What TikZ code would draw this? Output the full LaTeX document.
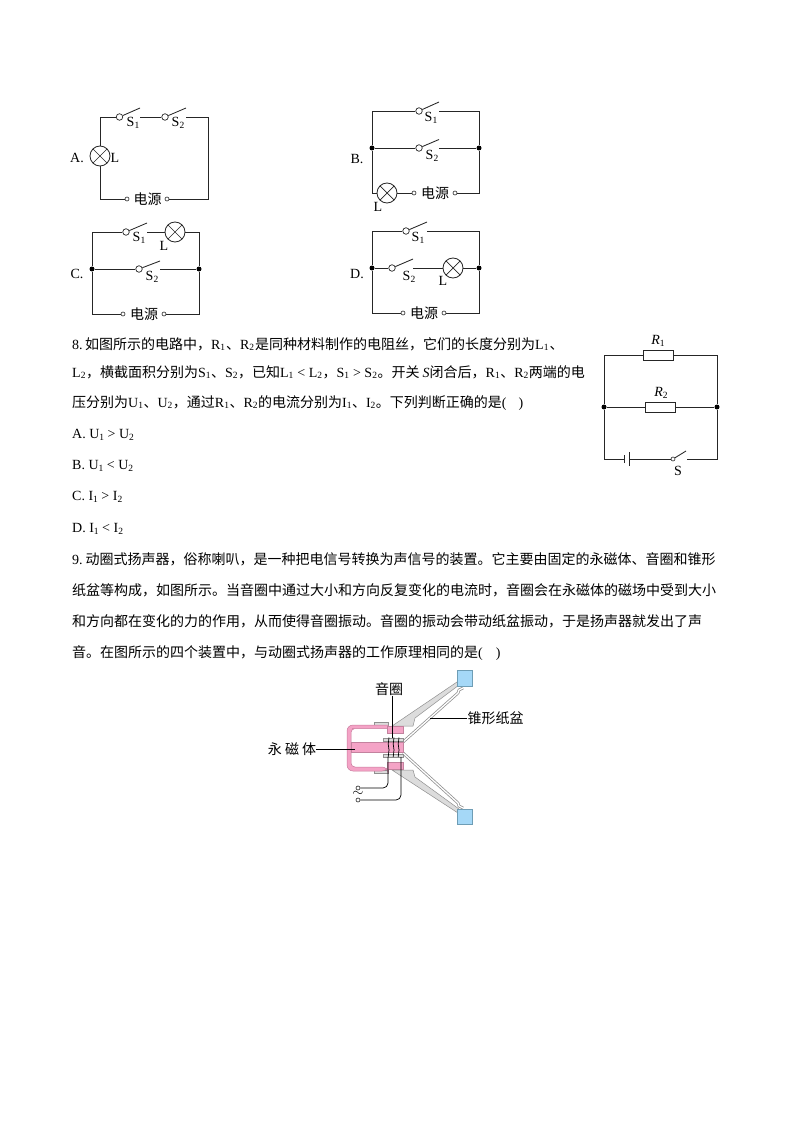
\documentclass[tikz,border=0pt]{standalone}
\usepackage{fontspec}
\setmainfont{Liberation Serif}
\newfontfamily\cjk{Noto Sans CJK SC}
\newcommand\zh[1]{{\cjk #1}}
\newcommand\sbn[1]{\raisebox{-1.5pt}{\fontsize{9.5}{9.5}\selectfont #1}}
\newcommand\sbb[1]{\sbn{#1}\hspace{1pt}}
\newcommand\sbc[1]{\sbn{#1}\hspace{0.5pt}}
\newcommand\swch[5]{% name, x, y, tipx, tipy
  \node[swc] (#1) at (#2,#3) {};
  \coordinate (#1t) at (#4,#5);
  \coordinate (#1e) at (#4,#3);
  \draw[wire] (#1) -- (#1t);}
\definecolor{magpink}{HTML}{F4A3C6}
\definecolor{magedge}{HTML}{C87A9C}
\definecolor{conegrey}{HTML}{DCDCDC}
\definecolor{coneedge}{HTML}{909090}
\definecolor{rimblue}{HTML}{A5D8F7}
\definecolor{rimedge}{HTML}{6E9DB5}
\tikzset{
  wire/.style={line width=0.85pt,draw=black!85},
  swc/.style={circle,draw=black!85,line width=0.7pt,minimum size=6.5pt,inner sep=0pt,fill=white},
  term/.style={circle,draw=black!85,line width=0.6pt,minimum size=4pt,inner sep=0pt,fill=white},
  jn/.style={circle,fill=black,minimum size=5pt,inner sep=0pt},
  lamp/.style={circle,draw=black!85,line width=0.85pt,minimum size=20pt,inner sep=0pt,
    path picture={\draw[line width=0.7pt,black!85] (path picture bounding box.south west)--(path picture bounding box.north east)
      (path picture bounding box.north west)--(path picture bounding box.south east);}},
  res/.style={rectangle,draw=black!85,line width=0.85pt,minimum width=30pt,minimum height=10pt,inner sep=0pt,fill=white},
  lbl/.style={inner sep=0pt,font=\fontsize{14}{14}\selectfont},
  body/.style={inner sep=0pt,anchor=west,font=\fontsize{14}{14}\selectfont},
  captxt/.style={inner sep=0pt,font=\fontsize{14}{14}\selectfont\cjk},
  lead/.style={line width=0.7pt,draw=black},
  cone/.style={draw=coneedge,line width=0.5pt,fill=conegrey},
  grayplate/.style={fill=conegrey,draw=coneedge,line width=0.4pt},
  pinkbar/.style={fill=magpink,draw=magpink!80!black,line width=0.3pt},
  bluebox/.style={fill=rimblue,draw=rimedge,line width=0.7pt},
  surr/.style={draw=coneedge,line width=2.8pt},
  surrin/.style={draw=white,line width=1.3pt}
}
\begin{document}
\begin{tikzpicture}[x=1pt,y=-1pt]
\useasboundingbox[fill=white] (0,0) rectangle (794,1123);
% ---- A
\node[lamp] (aL) at (100,156) {};
\swch{aS1}{119.5}{117}{140}{108}
\swch{aS2}{165}{117}{186}{108}
\node[term] (aP) at (127,199) {};
\node[term] (aQ) at (167,199) {};
\coordinate (aR) at (208,117);
\draw[wire] (aL) |- (aS1);
\draw[wire] (aS1e) -- (aS2);
\draw[wire] (aS2e) -- (aR) |- (aQ);
\draw[wire] (aL) |- (aP);
\node[lbl] (aTA) at (77,158) {A.};
\node[lbl] (aTL) at (115,158) {L};
\node[lbl] (aT1) at (133,123) {S\sbn{1}};
\node[lbl] (aT2) at (178,123) {S\sbn{2}};
\node[captxt] (aTP) at (147.5,199) {电源};
% ---- B
\node[jn] (bJ1) at (372,148) {};
\node[jn] (bJ2) at (479,148) {};
\swch{bS1}{419}{111}{439}{102}
\swch{bS2}{419}{148}{439}{139.5}
\node[lamp] (bL) at (387,193) {};
\node[term] (bP) at (414,193) {};
\node[term] (bQ) at (455,193) {};
\draw[wire] (bJ1) |- (bS1);
\draw[wire] (bS1e) -| (bJ2);
\draw[wire] (bJ1) -- (bS2);
\draw[wire] (bS2e) -- (bJ2);
\draw[wire] (bJ1) |- (bL);
\draw[wire] (bL) -- (bP);
\draw[wire] (bJ2) |- (bQ);
\node[lbl] (bTB) at (357,159) {B.};
\node[lbl] (bTL) at (378,207) {L};
\node[lbl] (bT1) at (431,118) {S\sbn{1}};
\node[lbl] (bT2) at (432,156) {S\sbn{2}};
\node[captxt] (bTP) at (435,193) {电源};
% ---- C
\node[jn] (cJ1) at (92,269) {};
\node[jn] (cJ2) at (199,269) {};
\swch{cS1}{126}{232}{147}{223}
\swch{cS2}{139}{269}{160}{261}
\node[lamp] (cL) at (175,232) {};
\node[term] (cP) at (123,314) {};
\node[term] (cQ) at (164,314) {};
\draw[wire] (cJ1) |- (cS1);
\draw[wire] (cS1e) -- (cL);
\draw[wire] (cL) -| (cJ2);
\draw[wire] (cJ1) -- (cS2);
\draw[wire] (cS2e) -- (cJ2);
\draw[wire] (cJ1) |- (cP);
\draw[wire] (cJ2) |- (cQ);
\node[lbl] (cTC) at (77,274) {C.};
\node[lbl] (cTL) at (164,246) {L};
\node[lbl] (cT1) at (139,238) {S\sbn{1}};
\node[lbl] (cT2) at (152,277) {S\sbn{2}};
\node[captxt] (cTP) at (144,314) {电源};
% ---- D
\node[jn] (dJ1) at (372,268) {};
\node[jn] (dJ2) at (479,268) {};
\swch{dS1}{406}{231}{427}{222}
\swch{dS2}{392}{268}{413}{259}
\node[lamp] (dL) at (453,268) {};
\node[term] (dP) at (403,313) {};
\node[term] (dQ) at (444,313) {};
\draw[wire] (dJ1) |- (dS1);
\draw[wire] (dS1e) -| (dJ2);
\draw[wire] (dJ1) -- (dS2);
\draw[wire] (dS2e) -- (dL);
\draw[wire] (dL) -- (dJ2);
\draw[wire] (dJ1) |- (dP);
\draw[wire] (dJ2) |- (dQ);
\node[lbl] (dTD) at (357,274) {D.};
\node[lbl] (dTL) at (443,281) {L};
\node[lbl] (dT1) at (418,238) {S\sbn{1}};
\node[lbl] (dT2) at (409,277) {S\sbn{2}};
\node[captxt] (dTP) at (424,313) {电源};
% ---- question 8 circuit
\node[jn] (eJ1) at (604,407) {};
\node[jn] (eJ2) at (717,407) {};
\node[res] (eR1) at (658,355) {};
\node[res] (eR2) at (660,407) {};
\node[term] (eS) at (673,459) {};
\coordinate (eSt) at (686,451);
\coordinate (eSe) at (687,459);
\coordinate (eB1) at (624,459);
\coordinate (eB2) at (629,459);
\draw[wire] (eS) -- (eSt);
\draw[wire] (eJ1) |- (eR1);
\draw[wire] (eR1) -| (eJ2);
\draw[wire] (eJ1) -- (eR2);
\draw[wire] (eR2) -- (eJ2);
\draw[wire] (eJ1) |- (eB1);
\draw[wire] (eB2) -- (eS);
\draw[wire] (eSe) -| (eJ2);
\draw[wire] ([yshift=-4pt]eB1) -- ([yshift=4pt]eB1);
\draw[wire] ([yshift=-7pt]eB2) -- ([yshift=7pt]eB2);
\node[lbl] (eT1) at (658,341) {\textit{R}\sbn{1}};
\node[lbl] (eT2) at (661,393) {\textit{R}\sbn{2}};
\node[lbl] (eTS) at (678,471) {S};
% ---- body text
\node[body] (t1) at (72,344) {8.\,\zh{如图所示的电路中，}R\sbb{1}\zh{、}R\sbb{2}\zh{是同种材料制作的电阻丝，它们的长度分别为}L\sbb{1}\zh{、}};
\node[body] (t2) at (72,372) {L\sbc{2}\zh{，横截面积分别为}S\sbc{1}\zh{、}S\sbc{2}\zh{，已知}L\sbc{1} < L\sbc{2}\zh{，}S\sbc{1} > S\sbc{2}\zh{。开关 }\textit{S}\zh{闭合后，}R\sbc{1}\zh{、}R\sbc{2}\zh{两端的电}};
\node[body] (t3) at (72,403) {\zh{压分别为}U\sbc{1}\zh{、}U\sbc{2}\zh{，通过}R\sbc{1}\zh{、}R\sbc{2}\zh{的电流分别为}I\sbc{1}\zh{、}I\sbc{2}\zh{。下列判断正确的是}(\hspace{12pt})};
\node[body] (t4) at (72,435) {A. U\sbn{1} > U\sbn{2}};
\node[body] (t5) at (72,466) {B. U\sbn{1} < U\sbn{2}};
\node[body] (t6) at (72,497) {C. I\sbn{1} > I\sbn{2}};
\node[body] (t7) at (72,529) {D. I\sbn{1} < I\sbn{2}};
\node[body] (t8) at (72,559) {9.\hspace{3pt}\zh{动圈式扬声器，俗称喇叭，是一种把电信号转换为声信号的装置。它主要由固定的永磁体、音圈和锥形}};
\node[body] (t9) at (72,590) {\zh{纸盆等构成，如图所示。当音圈中通过大小和方向反复变化的电流时，音圈会在永磁体的磁场中受到大小}};
\node[body] (t10) at (72,621) {\zh{和方向都在变化的力的作用，从而使得音圈振动。音圈的振动会带动纸盆振动，于是扬声器就发出了声}};
\node[body] (t11) at (72,653) {\zh{音。在图所示的四个装置中，与动圈式扬声器的工作原理相同的是}(\hspace{13pt})};
% ---- speaker
% suspension (double lines with a small wiggle at the rim)
\draw[surr] (403,742) -- (458,693) -- (459,690) -- (463,688);
\draw[surrin] (403,742) -- (458,693) -- (459,690) -- (463,688);
\draw[surr] (403,753) -- (458,803) -- (459,806) -- (463,808);
\draw[surrin] (403,753) -- (458,803) -- (459,806) -- (463,808);
% cones
\draw[cone] (392,726) -- (457,682) -- (459,685) -- (415,718) -- (413,726) -- cycle;
\draw[cone] (392,770) -- (413,770) -- (415,777) -- (459,809) -- (458,813) -- cycle;
\draw[bluebox] (457,670) rectangle (472,686);
\draw[bluebox] (457,809) rectangle (472,824);
% magnet frame and plates
\draw[grayplate] (374,722.5) rectangle (388,725.5);
\draw[grayplate] (374,770) rectangle (388,773);
\draw[fill=magpink,draw=magedge,line width=0.5pt,rounded corners=6pt] (388,725) -- (347,725) -- (347,771) -- (388,771) -- (388,767) [sharp corners] -- (356,767) [rounded corners=4pt] -- (351,767) -- (351,728.5) -- (356,728.5) [sharp corners] -- (388,728.5) -- cycle;
\draw[pinkbar] (387,726) rectangle (403,733);
\draw[pinkbar] (387,762) rectangle (403,769.5);
\draw[grayplate] (383,738) rectangle (403,741);
\draw[grayplate] (383,754) rectangle (403,757);
\draw[pinkbar] (351,742) rectangle (403,752);
\foreach \cx in {389,394,399} \draw[line width=0.7pt,black] (\cx,737.5) -- (\cx-0.8,744) -- (\cx,750) -- (\cx-0.8,757);
% coil wires
\node[term] (sP) at (358,788) {};
\node[term] (sQ) at (358,800) {};
\coordinate (sA) at (388,757);
\coordinate (sB) at (401,757);
\draw[lead,rounded corners=5pt] (sP) -| (sA);
\draw[lead,rounded corners=5pt] (sQ) -| (sB);
\node[lbl] (sT) at (358,794) {$\sim$};
% labels
\node[captxt] (sL1) at (389,689) {音圈};
\node[captxt] (sL2) at (495.5,718) {锥形纸盆};
\node[captxt] (sL3) at (292,749.5) {永 磁 体};
\coordinate (sC1) at (392,738);
\coordinate (sC2) at (430,718);
\coordinate (sC3) at (355,749.5);
\draw[lead] (sL1.south -| sC1) -- (sC1);
\draw[lead] (sL2.west) -- (sC2);
\draw[lead] (sL3.east) -- (sC3);
\end{tikzpicture}
\end{document}
